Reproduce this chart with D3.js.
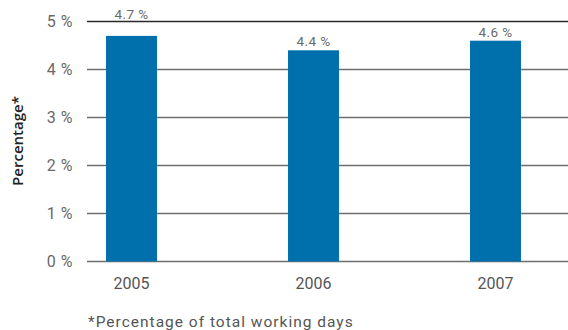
<!DOCTYPE html>
<html>
<head>
<meta charset="utf-8">
<script src="https://cdn.jsdelivr.net/npm/d3@7"></script>
<style>
  html, body { margin: 0; padding: 0; background: #fff; }
  svg { display: block; font-family: "Roboto", "DejaVu Sans", sans-serif; }
</style>
</head>
<body>
<svg id="chart" width="568" height="330"></svg>
<script>
// Absence rate by year
const years = ["2005", "2006", "2007"];
const rates = [4.7, 4.4, 4.6];
const yTicks = [0, 1, 2, 3, 4, 5];
const yTitle = "Percentage*";
const footnote = "*Percentage of total working days";

const svg = d3.select("#chart");

const x = d3.scaleBand()
  .domain(years)
  .range([40.5, 586.5])
  .paddingInner(0.72)
  .paddingOuter(0.36);

const y = d3.scaleLinear()
  .domain([0, 5])
  .range([261.5, 21.5]);

// Horizontal grid lines
svg.append("g")
  .selectAll("line")
  .data(yTicks)
  .join("line")
  .attr("x1", 87)
  .attr("x2", 568)
  .attr("y1", d => y(d))
  .attr("y2", d => y(d))
  .attr("stroke", d => d === 5 ? "#2a2a2a" : "#6e6e6e")
  .attr("stroke-width", 1.3);

// Y tick labels
svg.append("g")
  .selectAll("text")
  .data(yTicks)
  .join("text")
  .attr("x", 73)
  .attr("y", d => y(d))
  .attr("dy", "0.36em")
  .attr("text-anchor", "end")
  .attr("fill", "#6a6a6a")
  .attr("font-size", 16)
  .attr("letter-spacing", 0.5)
  .text(d => d + " %");

// Bars
svg.append("g")
  .selectAll("rect")
  .data(rates)
  .join("rect")
  .attr("x", (d, i) => x(years[i]))
  .attr("width", x.bandwidth())
  .attr("y", d => y(d))
  .attr("height", d => y(0) - y(d))
  .attr("fill", "#0070ad");

// Value labels: sit just above the bar, or above the top grid line when
// the bar reaches too close to it
const gridTop = y(yTicks[yTicks.length - 1]);
svg.append("g")
  .selectAll("text")
  .data(rates)
  .join("text")
  .attr("x", (d, i) => x(years[i]) + x.bandwidth() / 2)
  .attr("y", d => (y(d) - 15 < gridTop + 2) ? gridTop - 3 : y(d) - 4)
  .attr("text-anchor", "middle")
  .attr("fill", "#6a6a6a")
  .attr("font-size", 13.5)
  .attr("letter-spacing", 0.4)
  .text(d => d.toFixed(1) + " %");

// Year labels
svg.append("g")
  .selectAll("text")
  .data(years)
  .join("text")
  .attr("x", d => x(d) + x.bandwidth() / 2)
  .attr("y", 289)
  .attr("text-anchor", "middle")
  .attr("fill", "#555")
  .attr("font-size", 16)
  .text(d => d);

// Y axis title
svg.append("text")
  .attr("transform", "translate(23,141) rotate(-90)")
  .attr("text-anchor", "middle")
  .attr("fill", "#222")
  .attr("font-family", "'Open Sans', sans-serif")
  .attr("font-size", 15)
  .attr("font-weight", 600)
  .text(yTitle);

// Footnote
svg.append("text")
  .attr("x", 88)
  .attr("y", 327)
  .attr("fill", "#555")
  .attr("font-size", 15.5)
  .attr("letter-spacing", 1)
  .text(footnote);
</script>
</body>
</html>
